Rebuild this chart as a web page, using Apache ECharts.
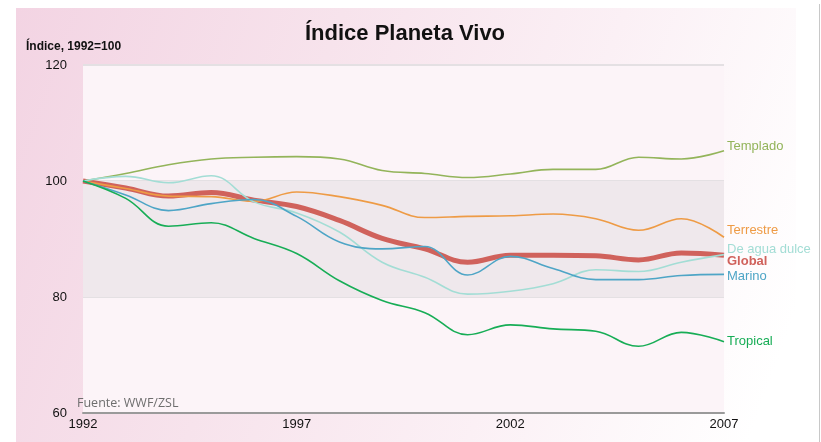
<!DOCTYPE html>
<html>
<head>
<meta charset="utf-8">
<script src="https://cdn.jsdelivr.net/npm/echarts@6/dist/echarts.min.js"></script>
<style>
  html, body { margin: 0; padding: 0; background: #fff; }
  #bg {
    position: absolute; left: 16px; top: 8px; width: 780px; height: 434px;
    background: linear-gradient(110deg, #f3d4e3 0%, #f7e3ec 35%, #fbf0f5 65%, #ffffff 95%);
  }
  #edge { position: absolute; left: 819px; top: 4px; width: 1px; height: 438px; background: #c8c8c8; }
  #chart { position: absolute; left: 0; top: 0; width: 821px; height: 442px; }
</style>
</head>
<body>
<div id="bg"></div>
<div id="edge"></div>
<div id="chart"></div>
<script>
// años
const years = ["1992","1993","1994","1995","1996","1997","1998","1999","2000","2001","2002","2003","2004","2005","2006","2007"]

// índice, 1992 = 100
const globalIdx   = [100, 98.8, 97.4, 98.0, 96.7, 95.6, 93.2, 90.1, 88.3, 86.0, 87.2, 87.2, 87.1, 86.4, 87.6, 87.2]
const templado    = [100, 101.3, 102.8, 103.8, 104.1, 104.2, 103.8, 101.8, 101.3, 100.6, 101.2, 102.0, 102.0, 104.1, 103.8, 105.2]
const terrestre   = [100, 98.7, 97.4, 97.3, 96.5, 98.1, 97.3, 95.8, 93.7, 93.9, 94.0, 94.3, 93.5, 91.5, 93.5, 90.3]
const aguaDulce   = [100, 100.8, 99.7, 100.9, 96.4, 94.5, 91.2, 86.0, 83.4, 80.5, 81.0, 82.3, 84.7, 84.4, 86.0, 87.3]
const marino      = [100, 97.6, 94.9, 96.1, 96.8, 93.9, 89.5, 88.3, 88.7, 83.8, 87.0, 84.9, 83.0, 83.0, 83.7, 83.9]
const tropical    = [100, 97.0, 92.2, 92.8, 90.1, 87.5, 82.8, 79.4, 77.3, 73.5, 75.2, 74.5, 74.1, 71.5, 73.9, 72.3]

const font = "'Liberation Sans', Arial, sans-serif"

function serie(name, data, color, width, offset, bold) {
  return {
    name: name,
    type: "line",
    data: data,
    smooth: 0.4,
    symbol: "none",
    lineStyle: { color: color, width: width },
    itemStyle: { color: color },
    endLabel: {
      show: true,
      formatter: "{a}",
      color: color,
      fontFamily: font,
      fontSize: 13,
      fontWeight: bold ? "bold" : "normal",
      distance: 3,
      offset: offset
    },
    z: width > 3 ? 2 : 3
  }
}

const chart = echarts.init(document.getElementById("chart"))
const series = [
  serie("Global", globalIdx, "#d0625c", 5, [0, 6], true),
  serie("Templado", templado, "#93b45a", 1.6, [0, -4]),
  serie("Terrestre", terrestre, "#ee9b45", 1.6, [0, -7]),
  serie("De agua dulce", aguaDulce, "#a3ddd5", 1.6, [0, -5]),
  serie("Marino", marino, "#4ea5c6", 1.6, [0, 2]),
  serie("Tropical", tropical, "#17ad56", 1.6, [0, 0])
]
series[0].markArea = {
  silent: true,
  itemStyle: { color: "#efe8ec" },
  data: [[{ yAxis: 80 }, { yAxis: 100 }]]
}

chart.setOption({
  animation: false,
  textStyle: { fontFamily: font },
  title: [
    {
      text: "Índice Planeta Vivo",
      left: 400,
      top: 18,
      textAlign: "center",
      textStyle: { fontSize: 22, fontWeight: "bold", color: "#111", fontFamily: font }
    },
    {
      text: "Índice, 1992=100",
      left: 21,
      top: 36,
      textStyle: { fontSize: 12, fontWeight: "bold", color: "#111", fontFamily: font }
    }
  ],
  graphic: [
    {
      type: "text",
      left: 77,
      top: 397,
      style: { text: "Fuente: WWF/ZSL", fill: "#6e6e6e", font: "12.5px 'Open Sans', sans-serif" }
    }
  ],
  grid: {
    left: 83,
    right: 97,
    top: 65,
    bottom: 29,
    show: true,
    borderWidth: 0,
    backgroundColor: "#fcf4f8"
  },
  xAxis: {
    type: "category",
    data: years,
    boundaryGap: false,
    axisLine: { lineStyle: { color: "#9a9a9a", width: 2 } },
    axisTick: { show: false },
    axisLabel: { interval: 4, color: "#111", fontSize: 13, margin: 5, fontFamily: font },
    splitLine: { show: false }
  },
  yAxis: {
    type: "value",
    min: 60,
    max: 120,
    interval: 20,
    axisLine: { show: false },
    axisTick: { show: false },
    axisLabel: { color: "#111", fontSize: 13, margin: 16, fontFamily: font },
    splitLine: { lineStyle: { color: "#e4e0e3", width: 2 } }
  },
  series: series
})
</script>
</body>
</html>
